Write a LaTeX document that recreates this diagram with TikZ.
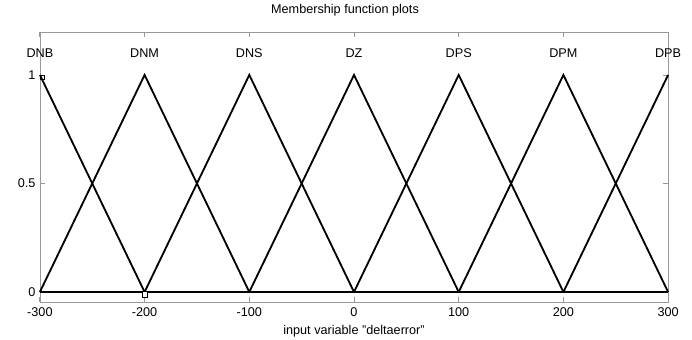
\documentclass[tikz,border=0pt]{standalone}
\usepackage{fontspec}
\setmainfont{Liberation Sans}
\begin{document}
\begin{tikzpicture}[x=0.025cm, y=-0.025cm, font=\fontsize{9}{10}\selectfont,
    frame/.style={draw=gray!80, line width=0.6pt},
    mf/.style={draw=black, line width=1.3pt},
    lbl/.style={inner sep=0pt}]
            \useasboundingbox (0,0) rectangle (692,340);
            % axes box in pixel units
            \draw[frame] (40,32) rectangle (668,302);
            \node[lbl] (title) at (345,10) {Membership function plots};
            \node[lbl] (xlabel) at (354,331) {input variable "deltaerror"};

            \begin{scope}[shift={(354,292)}, x=0.026167cm, y=5.425cm]
            % ticks
            \foreach \t in {-300,-200,-100,0,100,200,300} {
                \draw[gray!80, line width=0.6pt] (\t,-0.0461) -- ++(0,0.023);
                \draw[gray!80, line width=0.6pt] (\t,1.198) -- ++(0,-0.023);
                \node[lbl] (xt\t) at (\t,-0.095) {\t};
            }
            \foreach \v in {0,0.5,1} {
                \draw[gray!80, line width=0.6pt] (-300,\v) -- ++(5,0);
                \draw[gray!80, line width=0.6pt] (300,\v) -- ++(-5,0);
            }
            \node[lbl, anchor=east] (y0) at (-304,0) {0};
            \node[lbl, anchor=east] (y05) at (-304,0.5) {0.5};
            \node[lbl, anchor=east] (y1) at (-304,1) {1};

            % feet and peaks
            \coordinate (b0) at (-300,0);
            \coordinate (b1) at (-200,0);
            \coordinate (b2) at (-100,0);
            \coordinate (b3) at (0,0);
            \coordinate (b4) at (100,0);
            \coordinate (b5) at (200,0);
            \coordinate (b6) at (300,0);

            \coordinate (t0) at (-300,1);
            \coordinate (t1) at (-200,1);
            \coordinate (t2) at (-100,1);
            \coordinate (t3) at (0,1);
            \coordinate (t4) at (100,1);
            \coordinate (t5) at (200,1);
            \coordinate (t6) at (300,1);

            \draw[black, line width=2pt] (b0) -- (b6);

            \draw[mf] (t0) -- (b1);
            \draw[mf] (b0) -- (t1) -- (b2);
            \draw[mf] (b1) -- (t2) -- (b3);
            \draw[mf] (b2) -- (t3) -- (b4);
            \draw[mf] (b3) -- (t4) -- (b5);
            \draw[mf] (b4) -- (t5) -- (b6);
            \draw[mf] (b5) -- (t6);

            \node[lbl] (DNB) at (-300,1.10) {DNB};
            \node[lbl] (DNM) at (-200,1.10) {DNM};
            \node[lbl] (DNS) at (-100,1.10) {DNS};
            \node[lbl] (DZ) at (0,1.10) {DZ};
            \node[lbl] (DPS) at (100,1.10) {DPS};
            \node[lbl] (DPM) at (200,1.10) {DPM};
            \node[lbl] (DPB) at (300,1.10) {DPB};

            % selection markers
            \node[draw=black, line width=0.4pt, fill=white, minimum size=4pt, inner sep=0pt] (sel) at (-200,-0.01) {};
            \node[draw=black, line width=0.4pt, minimum size=3pt, inner sep=0pt] (sel2) at (-298,0.99) {};
            \end{scope}
\end{tikzpicture}
\end{document}
